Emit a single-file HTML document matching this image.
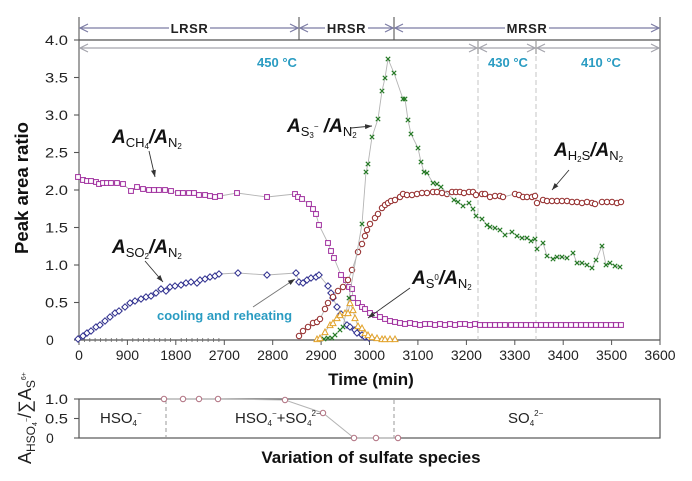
<!DOCTYPE html>
<html><head><meta charset="utf-8"><style>
html,body{margin:0;padding:0;background:#fff;}
svg{display:block;font-family:"Liberation Sans",Arial,sans-serif;}
</style></head><body>
<svg width="692" height="481" viewBox="0 0 692 481" xmlns="http://www.w3.org/2000/svg">
<defs>
<marker id="msq" markerWidth="8" markerHeight="8" refX="4" refY="4" markerUnits="userSpaceOnUse"><rect x="1.6" y="1.6" width="4.8" height="4.8" fill="#fff" stroke="#a0309e" stroke-width="1"/></marker>
<marker id="mdi" markerWidth="8" markerHeight="8" refX="4" refY="4" markerUnits="userSpaceOnUse"><polygon points="4,0.8 7.2,4 4,7.2 0.8,4" fill="#fff" stroke="#2a2a8c" stroke-width="1"/></marker>
<marker id="mci" markerWidth="8" markerHeight="8" refX="4" refY="4" markerUnits="userSpaceOnUse"><circle cx="4" cy="4" r="2.7" fill="#fff" stroke="#922828" stroke-width="1"/></marker>
<marker id="mx" markerWidth="8" markerHeight="8" refX="4" refY="4" markerUnits="userSpaceOnUse"><path d="M1.8,1.8 L6.2,6.2 M6.2,1.8 L1.8,6.2" stroke="#257a25" stroke-width="1.1"/></marker>
<marker id="mtr" markerWidth="8" markerHeight="8" refX="4" refY="4" markerUnits="userSpaceOnUse"><polygon points="4,1 7,6.6 1,6.6" fill="#fff" stroke="#e2a22a" stroke-width="1"/></marker>
<marker id="mlo" markerWidth="8" markerHeight="8" refX="4" refY="4" markerUnits="userSpaceOnUse"><circle cx="4" cy="4" r="2.7" fill="#fff" stroke="#b07080" stroke-width="1"/></marker>
<marker id="arr" markerWidth="8" markerHeight="8" refX="7" refY="4" orient="auto" markerUnits="userSpaceOnUse"><path d="M0,1.5 L7,4 L0,6.5 Z" fill="#333"/></marker>
</defs>

<!-- top region arrows -->
<g stroke="#666" stroke-width="1.2" fill="none">
<line x1="79" y1="17" x2="79" y2="340"/>
<line x1="299" y1="17" x2="299" y2="40"/>
<line x1="394" y1="17" x2="394" y2="40"/>
<line x1="660" y1="17" x2="660" y2="340"/>
<line x1="79" y1="40" x2="660" y2="40" stroke="#555"/>
<line x1="79" y1="340" x2="660" y2="340" stroke="#555"/>
</g>
<g stroke="#7c7ca4" stroke-width="1.2" fill="none">
<line x1="80" y1="28" x2="298" y2="28"/>
<line x1="300" y1="28" x2="393" y2="28"/>
<line x1="395" y1="28" x2="659" y2="28"/>
<polyline points="88,24 80,28 88,32"/>
<polyline points="290,24 298,28 290,32"/>
<polyline points="308,24 300,28 308,32"/>
<polyline points="385,24 393,28 385,32"/>
<polyline points="403,24 395,28 403,32"/>
<polyline points="651,24 659,28 651,32"/>
</g>
<rect x="169" y="21" width="41" height="13" fill="#fff"/>
<rect x="325" y="21" width="43" height="13" fill="#fff"/>
<rect x="505" y="21" width="44" height="13" fill="#fff"/>
<g font-size="13" font-weight="bold" fill="#222" text-anchor="middle" letter-spacing="0.6">
<text x="189.5" y="33">LRSR</text>
<text x="346.5" y="33">HRSR</text>
<text x="527" y="33">MRSR</text>
</g>
<g stroke="#a4a4ac" stroke-width="1.2" fill="none">
<line x1="80" y1="48" x2="477" y2="48"/>
<line x1="479" y1="48" x2="535" y2="48"/>
<line x1="537" y1="48" x2="659" y2="48"/>
<polyline points="88,44 80,48 88,52"/>
<polyline points="469,44 477,48 469,52"/>
<polyline points="487,44 479,48 487,52"/>
<polyline points="527,44 535,48 527,52"/>
<polyline points="545,44 537,48 545,52"/>
<polyline points="651,44 659,48 651,52"/>
<line x1="478" y1="40" x2="478" y2="54" stroke="#999"/>
<line x1="536" y1="40" x2="536" y2="54" stroke="#999"/>
</g>
<g stroke="#c4c4c4" stroke-width="1" stroke-dasharray="5,3">
<line x1="478" y1="56" x2="478" y2="340"/>
<line x1="536" y1="56" x2="536" y2="340"/>
</g>
<g font-size="13" font-weight="bold" fill="#2a9cc2" text-anchor="middle">
<text x="277" y="67">450 °C</text>
<text x="508" y="67">430 °C</text>
<text x="601" y="67">410 °C</text>
</g>

<!-- y axis ticks -->
<g stroke="#555" stroke-width="1.1">
<line x1="74" y1="340" x2="79" y2="340"/><line x1="74" y1="302.5" x2="79" y2="302.5"/>
<line x1="74" y1="265" x2="79" y2="265"/><line x1="74" y1="227.5" x2="79" y2="227.5"/>
<line x1="74" y1="190" x2="79" y2="190"/><line x1="74" y1="152.5" x2="79" y2="152.5"/>
<line x1="74" y1="115" x2="79" y2="115"/><line x1="74" y1="77.5" x2="79" y2="77.5"/>
<line x1="74" y1="40" x2="79" y2="40"/>
</g>
<g font-size="14" fill="#222">
<text x="46" y="345">0</text>
<text x="45" y="307.5" textLength="23" lengthAdjust="spacingAndGlyphs">0.5</text>
<text x="45" y="270" textLength="23" lengthAdjust="spacingAndGlyphs">1.0</text>
<text x="45" y="232.5" textLength="23" lengthAdjust="spacingAndGlyphs">1.5</text>
<text x="45" y="195" textLength="23" lengthAdjust="spacingAndGlyphs">2.0</text>
<text x="45" y="157.5" textLength="23" lengthAdjust="spacingAndGlyphs">2.5</text>
<text x="45" y="120" textLength="23" lengthAdjust="spacingAndGlyphs">3.0</text>
<text x="45" y="82.5" textLength="23" lengthAdjust="spacingAndGlyphs">3.5</text>
<text x="45" y="45" textLength="23" lengthAdjust="spacingAndGlyphs">4.0</text>
</g>

<!-- x axis ticks -->
<g stroke="#555" stroke-width="1">
<line x1="79" y1="340" x2="79" y2="345"/><line x1="127.4" y1="340" x2="127.4" y2="345"/>
<line x1="175.8" y1="340" x2="175.8" y2="345"/><line x1="224.3" y1="340" x2="224.3" y2="345"/>
<line x1="272.7" y1="340" x2="272.7" y2="345"/><line x1="321.1" y1="340" x2="321.1" y2="345"/>
<line x1="369.5" y1="340" x2="369.5" y2="345"/><line x1="417.9" y1="340" x2="417.9" y2="345"/>
<line x1="466.4" y1="340" x2="466.4" y2="345"/><line x1="514.8" y1="340" x2="514.8" y2="345"/>
<line x1="563.2" y1="340" x2="563.2" y2="345"/><line x1="611.6" y1="340" x2="611.6" y2="345"/>
<line x1="660" y1="340" x2="660" y2="345"/>
</g>
<g stroke="#666" stroke-width="0.8">
<line x1="84.4" y1="338" x2="84.4" y2="342"/><line x1="89.8" y1="338" x2="89.8" y2="342"/><line x1="95.1" y1="338" x2="95.1" y2="342"/><line x1="100.5" y1="338" x2="100.5" y2="342"/><line x1="105.9" y1="338" x2="105.9" y2="342"/><line x1="111.3" y1="338" x2="111.3" y2="342"/><line x1="116.7" y1="338" x2="116.7" y2="342"/><line x1="122" y1="338" x2="122" y2="342"/>
<line x1="132.8" y1="338" x2="132.8" y2="342"/><line x1="138.2" y1="338" x2="138.2" y2="342"/><line x1="143.5" y1="338" x2="143.5" y2="342"/><line x1="148.9" y1="338" x2="148.9" y2="342"/><line x1="154.3" y1="338" x2="154.3" y2="342"/><line x1="159.7" y1="338" x2="159.7" y2="342"/><line x1="165.1" y1="338" x2="165.1" y2="342"/><line x1="170.4" y1="338" x2="170.4" y2="342"/>
<line x1="181.2" y1="338" x2="181.2" y2="342"/><line x1="186.6" y1="338" x2="186.6" y2="342"/><line x1="192" y1="338" x2="192" y2="342"/><line x1="197.3" y1="338" x2="197.3" y2="342"/><line x1="202.7" y1="338" x2="202.7" y2="342"/><line x1="208.1" y1="338" x2="208.1" y2="342"/><line x1="213.5" y1="338" x2="213.5" y2="342"/><line x1="218.9" y1="338" x2="218.9" y2="342"/>
</g>
<g font-size="14" fill="#222" text-anchor="middle">
<text x="79" y="360">0</text><text x="127.4" y="360">900</text><text x="175.8" y="360">1800</text>
<text x="224.3" y="360">2700</text><text x="272.7" y="360">2800</text><text x="321.1" y="360">2900</text>
<text x="369.5" y="360">3000</text><text x="417.9" y="360">3100</text><text x="466.4" y="360">3200</text>
<text x="514.8" y="360">3300</text><text x="563.2" y="360">3400</text><text x="611.6" y="360">3500</text>
<text x="660" y="360">3600</text>
</g>
<text x="371" y="385" font-size="17" font-weight="bold" fill="#111" text-anchor="middle">Time (min)</text>
<text transform="translate(28,188) rotate(-90)" font-size="18" font-weight="bold" fill="#111" text-anchor="middle" textLength="132" lengthAdjust="spacingAndGlyphs">Peak area ratio</text>

<!-- series -->
<g fill="none" stroke="#b4b4b4" stroke-width="0.9">
<polyline marker-start="url(#msq)" marker-mid="url(#msq)" marker-end="url(#msq)" points="78,177 83,180 87,181 91,181 96,182 99,184 103,183 107,183 111,183 117,183 123,184 131,191 137,187 143,189 149,190 154,190 159,190 165,190 171,191 178,193 183,193 189,193 194,193 199,195 205,195 210,196 215,197 220,196 237,193 267,197 295,194 298,197 302,199 309,204 313,209 316,214 319,225 328,243 331,251 334,258 341,275 346,280 349,287 352,289 353,298 358,303 362,307 365,309 370,313 375,315 380,317 385,319 390,321 395,322 400,323 405,324 410,323 415,324 420,325 425,324 430,324 435,325 440,324 445,325 450,324 455,325 460,324 465,324 470,325 475,324 480,325 485,325 490,325 495,325 500,325 505,325 511,325 516,325 521,325 526,325 531,325 536,325 541,325 546,325 551,325 556,325 561,325 566,325 571,325 576,325 581,325 586,325 591,325 596,325 601,325 606,325 611,325 616,325 621,325"/>
<polyline marker-start="url(#mdi)" marker-mid="url(#mdi)" marker-end="url(#mdi)" points="78,339 83,336 87,333 91,331 96,327 100,325 105,321 110,317 115,313 119,311 125,307 130,303 135,301 141,299 146,297 151,296 156,293 161,289 166,291 170,287 175,286 181,285 186,283 191,282 197,283 200,280 205,279 210,277 215,276 219,274 238,273 267,275 296,273 299,282 303,283 307,280 311,278 316,277 319,275 328,286 331,293 333,298 337,307 341,314 347,325 350,327 355,330 357,333 362,335 365,337 369,338"/>
<polyline marker-start="url(#mci)" marker-mid="url(#mci)" marker-end="url(#mci)" points="299,336 303,331 308,327 313,323 317,322 320,319 325,309 328,303 333,297 338,291 343,287 348,280 352,270 358,252 362,244 365,236 367,230 370,224 375,218 378,214 382,208 385,205 388,203 391,201 395,200 400,197 403,194 407,195 412,195 417,194 422,193 427,193 433,192 437,192 442,193 447,194 452,192 456,192 460,192 464,193 469,192 473,192 476,195 482,194 485,194 490,197 495,196 500,196 503,197 515,194 519,195 523,197 527,197 532,197 535,196 537,203 543,200 547,201 552,201 557,201 562,201 567,201 572,202 577,202 582,203 587,202 592,203 595,204 602,202 607,202 612,202 617,203 621,202"/>
<polyline marker-start="url(#mx)" marker-mid="url(#mx)" marker-end="url(#mx)" points="324,339 328,338 332,338 335,335 340,330 343,327 349,298 362,224 366,172 368,164 372,137 378,119 382,91 385,78 388,59 394,73 403,99 405,99 408,120 411,134 418,148 421,162 424,172 427,173 433,183 437,184 441,187 454,200 458,202 463,206 469,203 473,209 476,216 482,219 487,225 490,227 495,228 500,230 505,235 512,232 517,236 522,238 527,238 531,241 535,239 537,249 543,243 547,256 553,259 557,257 562,257 567,258 573,253 577,263 582,263 587,265 592,268 596,260 602,246 606,265 610,263 615,266 620,267"/>
<polyline marker-start="url(#mtr)" marker-mid="url(#mtr)" marker-end="url(#mtr)" points="317,339 320,338 325,332 330,325 333,323 337,318 340,315 345,313 348,313 350,303 353,310 355,318 358,326 362,328 365,333 368,335 372,337 377,338 382,339 385,339 390,339 395,339"/>
</g>

<!-- annotations -->
<g stroke="#333" stroke-width="0.9" fill="none">
<line x1="149" y1="151" x2="155" y2="177" marker-end="url(#arr)"/>
<line x1="145" y1="261" x2="163" y2="282" marker-end="url(#arr)"/>
<line x1="351" y1="128" x2="372" y2="126" marker-end="url(#arr)"/>
<line x1="569" y1="170" x2="552" y2="190" marker-end="url(#arr)"/>
<line x1="410" y1="288" x2="368" y2="318" marker-end="url(#arr)"/>
<line x1="253" y1="307" x2="295" y2="279" stroke="#777" marker-end="url(#arr)"/>
</g>
<g fill="#111">
<text x="112" y="143"><tspan font-size="19" font-weight="bold" font-style="italic">A</tspan><tspan font-size="13" dy="4">CH</tspan><tspan font-size="8" dy="2">4</tspan><tspan font-size="19" font-weight="bold" font-style="italic" dy="-6">/A</tspan><tspan font-size="13" dy="4">N</tspan><tspan font-size="8" dy="2">2</tspan></text>
<text x="112" y="253"><tspan font-size="19" font-weight="bold" font-style="italic">A</tspan><tspan font-size="13" dy="4">SO</tspan><tspan font-size="8" dy="2">2</tspan><tspan font-size="19" font-weight="bold" font-style="italic" dy="-6">/A</tspan><tspan font-size="13" dy="4">N</tspan><tspan font-size="8" dy="2">2</tspan></text>
<text x="287" y="132"><tspan font-size="19" font-weight="bold" font-style="italic">A</tspan><tspan font-size="13" dy="4">S</tspan><tspan font-size="8" dy="2">3</tspan><tspan font-size="8" dy="-9">−</tspan><tspan font-size="19" font-weight="bold" font-style="italic" dy="3"> /A</tspan><tspan font-size="13" dy="4">N</tspan><tspan font-size="8" dy="2">2</tspan></text>
<text x="554" y="156"><tspan font-size="19" font-weight="bold" font-style="italic">A</tspan><tspan font-size="13" dy="4">H</tspan><tspan font-size="8" dy="2">2</tspan><tspan font-size="13" dy="-2">S</tspan><tspan font-size="19" font-weight="bold" font-style="italic" dy="-4">/A</tspan><tspan font-size="13" dy="4">N</tspan><tspan font-size="8" dy="2">2</tspan></text>
<text x="412" y="284"><tspan font-size="19" font-weight="bold" font-style="italic">A</tspan><tspan font-size="13" dy="4">S</tspan><tspan font-size="8" dy="-8">0</tspan><tspan font-size="19" font-weight="bold" font-style="italic" dy="4">/A</tspan><tspan font-size="13" dy="4">N</tspan><tspan font-size="8" dy="2">2</tspan></text>
</g>
<text x="157" y="320" font-size="13" font-weight="bold" fill="#2a9cc2">cooling and reheating</text>

<!-- lower panel -->
<rect x="79" y="399" width="581" height="39" fill="none" stroke="#555" stroke-width="1.2"/>
<g stroke="#999" stroke-width="1" stroke-dasharray="4,3">
<line x1="166" y1="400" x2="166" y2="438"/>
<line x1="394" y1="400" x2="394" y2="438"/>
</g>
<g stroke="#555" stroke-width="1.1">
<line x1="74" y1="399" x2="79" y2="399"/><line x1="74" y1="418.5" x2="79" y2="418.5"/><line x1="74" y1="438" x2="79" y2="438"/>
</g>
<g font-size="14" fill="#222">
<text x="45" y="404" textLength="23" lengthAdjust="spacingAndGlyphs">1.0</text>
<text x="45" y="423.5" textLength="23" lengthAdjust="spacingAndGlyphs">0.5</text>
<text x="46" y="443">0</text>
</g>
<polyline fill="none" stroke="#b4b4b4" stroke-width="1" marker-start="url(#mlo)" marker-mid="url(#mlo)" marker-end="url(#mlo)" points="164,399 183,399 199,399 218,399 285,400 323,413 354,438 376,438 398,438"/>
<g fill="#222">
<text x="100" y="423"><tspan font-size="15">HSO</tspan><tspan font-size="8" dy="3">4</tspan><tspan font-size="8" dy="-10">−</tspan></text>
<text x="235" y="423"><tspan font-size="15">HSO</tspan><tspan font-size="8" dy="3">4</tspan><tspan font-size="8" dy="-10">−</tspan><tspan font-size="15" dy="7">+SO</tspan><tspan font-size="8" dy="3">4</tspan><tspan font-size="8" dy="-10">2−</tspan></text>
<text x="508" y="423"><tspan font-size="15">SO</tspan><tspan font-size="8" dy="3">4</tspan><tspan font-size="8" dy="-10">2−</tspan></text>
</g>
<text transform="translate(31,464) rotate(-90)" fill="#222"><tspan font-size="18">A</tspan><tspan font-size="12" dy="4">HSO</tspan><tspan font-size="7" dy="2">4</tspan><tspan font-size="7" dy="-8">−</tspan><tspan font-size="18" dy="2">/∑A</tspan><tspan font-size="12" dy="4">S</tspan><tspan font-size="7" dy="-9">6+</tspan></text>
<text x="371" y="463" font-size="17" font-weight="bold" fill="#111" text-anchor="middle">Variation of sulfate species</text>
</svg>
</body></html>
